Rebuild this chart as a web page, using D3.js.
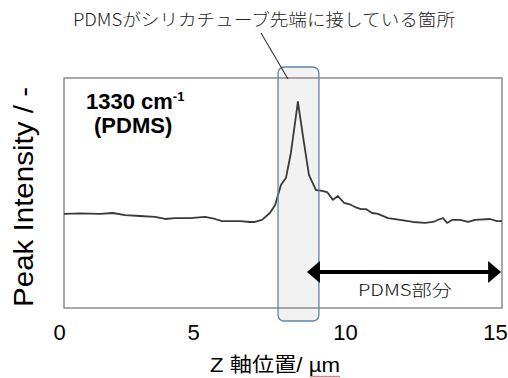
<!DOCTYPE html>
<html>
<head>
<meta charset="utf-8">
<script src="https://cdn.jsdelivr.net/npm/d3@7"></script>
<style>
  html, body { margin: 0; padding: 0; background: #fff; }
  svg { display: block; }
</style>
</head>
<body>
<div id="chart"></div>
<script>
// Z position (um) and PDMS peak intensity (arbitrary units)
const zPos = [0, 0.55, 1.23, 1.68, 2.09, 2.60, 3.12, 3.46, 3.80, 4.32, 4.83, 5.17, 5.41, 6.03, 6.37, 6.54, 6.78,
  7.05, 7.23, 7.43, 7.60, 7.77, 8.01, 8.22, 8.39, 8.63, 8.84, 9.01, 9.21, 9.38, 9.59, 9.76, 9.97,
  10.17, 10.34, 10.55, 10.75, 11.10, 11.51, 11.95, 12.36, 12.64, 12.88, 12.98, 13.12, 13.29, 13.56,
  13.84, 14.08, 14.59, 14.83, 15.0];
const intensity = [40.9, 41.1, 40.9, 41.3, 40.4, 40.0, 39.6, 38.7, 39.1, 39.1, 39.6, 38.7, 37.8, 37.8, 37.4, 37.4, 38.3,
  41.3, 44.8, 53.5, 56.5, 67.4, 89.6, 71.7, 57.8, 51.3, 50.9, 50.4, 47.0, 48.7, 45.7, 45.2, 43.9,
  43.0, 43.0, 41.3, 40.9, 39.1, 38.3, 37.4, 37.0, 37.4, 38.7, 39.1, 37.0, 38.3, 38.3,
  37.4, 38.3, 38.7, 37.8, 37.8];
const xTicks = [0, 5, 10, 15];
const tickLabelPos = [59, 193, 345, 495];

const contactZone = [7.33, 8.73];   // shaded region where PDMS touches the tube tip
const pdmsRange = [8.32, 14.97];    // arrow extent "PDMS部分"
const arrowLevel = 15.6;

const W = 508, H = 378;
const margin = { top: 78, right: 6, bottom: 70, left: 64 };
const innerW = W - margin.left - margin.right;
const innerH = H - margin.top - margin.bottom;

const svg = d3.select('#chart').append('svg')
  .attr('width', W).attr('height', H);

const x = d3.scaleLinear().domain([0, 15]).range([margin.left, margin.left + innerW]);
const y = d3.scaleLinear().domain([0, 100]).range([margin.top + innerH, margin.top]);

// shaded contact zone (fill below the frame)
svg.append('rect')
  .attr('x', x(contactZone[0]))
  .attr('y', margin.top - 11)
  .attr('width', x(contactZone[1]) - x(contactZone[0]))
  .attr('height', innerH + 24)
  .attr('rx', 6).attr('ry', 6)
  .attr('fill', '#f2f2f2')
  .attr('stroke', 'none');

// plot frame
svg.append('rect')
  .attr('x', margin.left).attr('y', margin.top)
  .attr('width', innerW).attr('height', innerH)
  .attr('fill', 'none')
  .attr('stroke', '#8c8c8c')
  .attr('stroke-width', 1.5);

// data line
const pts = zPos.map((z, i) => [z, intensity[i]]);
svg.append('path')
  .datum(pts)
  .attr('d', d3.line().x(d => x(d[0])).y(d => y(d[1])))
  .attr('fill', 'none')
  .attr('stroke', '#3a3a3a')
  .attr('stroke-width', 1.8)
  .attr('stroke-linejoin', 'round');

// zone outline on top
svg.append('rect')
  .attr('x', x(contactZone[0]))
  .attr('y', margin.top - 11)
  .attr('width', x(contactZone[1]) - x(contactZone[0]))
  .attr('height', innerH + 24)
  .attr('rx', 6).attr('ry', 6)
  .attr('fill', 'none')
  .attr('stroke', '#5f84ad')
  .attr('stroke-width', 1.3);

// x axis labels
const labelScale = d3.scaleLinear().domain(xTicks).range(tickLabelPos);
svg.append('g')
  .attr('transform', `translate(0,${margin.top + innerH})`)
  .call(d3.axisBottom(labelScale).tickValues(xTicks).tickSize(0).tickPadding(16))
  .call(g => g.select('.domain').remove())
  .selectAll('text')
  .attr('font-family', 'Arial, "Liberation Sans", sans-serif')
  .attr('font-size', 22)
  .attr('fill', '#000');

// axis titles
svg.append('text')
  .attr('x', 275).attr('y', 372)
  .attr('text-anchor', 'middle')
  .attr('font-family', 'Arial, "Liberation Sans", "Noto Sans CJK JP", sans-serif')
  .attr('font-size', 20)
  .attr('textLength', 130).attr('lengthAdjust', 'spacingAndGlyphs')
  .text('Z 軸位置/ µm');

// spell-check squiggle under "µm"
const squig = d3.range(0, 31, 2).map((d, i) => [310 + d, 376 + (i % 2 ? 1.2 : 0)]);
svg.append('path')
  .attr('d', d3.line()(squig))
  .attr('fill', 'none').attr('stroke', '#e03030').attr('stroke-width', 0.9);

svg.append('text')
  .attr('transform', `translate(33,197) rotate(-90)`)
  .attr('text-anchor', 'middle')
  .attr('font-family', 'Arial, "Liberation Sans", sans-serif')
  .attr('font-size', 27)
  .attr('textLength', 220).attr('lengthAdjust', 'spacingAndGlyphs')
  .text('Peak Intensity / -');

// band label
const lab = svg.append('text')
  .attr('x', 86).attr('y', 109)
  .attr('font-family', 'Arial, "Liberation Sans", sans-serif')
  .attr('font-weight', 'bold')
  .attr('font-size', 22);
lab.append('tspan').text('1330 cm');
lab.append('tspan').attr('font-size', 13).attr('dy', -8).text('-1');
svg.append('text')
  .attr('x', 94).attr('y', 133)
  .attr('font-family', 'Arial, "Liberation Sans", sans-serif')
  .attr('font-weight', 'bold')
  .attr('font-size', 22)
  .text('(PDMS)');

// top callout
svg.append('text')
  .attr('x', 264).attr('y', 26)
  .attr('text-anchor', 'middle')
  .attr('font-family', '"Noto Sans CJK JP", sans-serif')
  .attr('font-weight', 300)
  .attr('font-size', 17)
  .attr('fill', '#222')
  .attr('textLength', 382).attr('lengthAdjust', 'spacingAndGlyphs')
  .text('PDMSがシリカチューブ先端に接している箇所');
svg.append('line')
  .attr('x1', 261).attr('y1', 33)
  .attr('x2', 288).attr('y2', margin.top + 1)
  .attr('stroke', '#333').attr('stroke-width', 1.1);

// double arrow
const ax0 = x(pdmsRange[0]), ax1 = x(pdmsRange[1]), ay = y(arrowLevel);
const headL = 13, headH = 11;
svg.append('line')
  .attr('x1', ax0 + headL - 1).attr('x2', ax1 - headL + 1)
  .attr('y1', ay).attr('y2', ay)
  .attr('stroke', '#000').attr('stroke-width', 4);
svg.append('path')
  .attr('d', `M${ax0},${ay}L${ax0 + headL},${ay - headH}L${ax0 + headL},${ay + headH}Z`)
  .attr('fill', '#000');
svg.append('path')
  .attr('d', `M${ax1},${ay}L${ax1 - headL},${ay - headH}L${ax1 - headL},${ay + headH}Z`)
  .attr('fill', '#000');
svg.append('text')
  .attr('x', 405).attr('y', 296)
  .attr('text-anchor', 'middle')
  .attr('font-family', '"Noto Sans CJK JP", sans-serif')
  .attr('font-weight', 300)
  .attr('font-size', 16)
  .attr('fill', '#111')
  .attr('textLength', 94).attr('lengthAdjust', 'spacingAndGlyphs')
  .text('PDMS部分');
</script>
</body>
</html>
